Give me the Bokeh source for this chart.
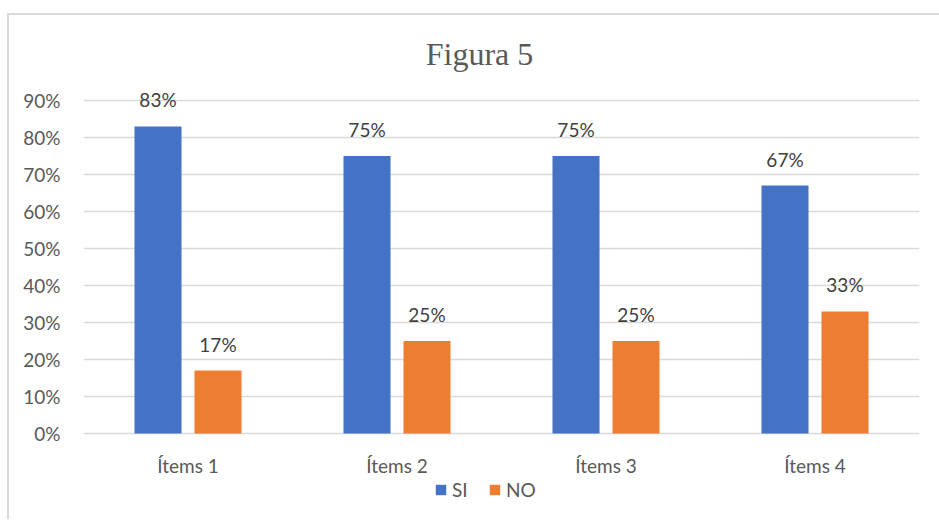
from bokeh.plotting import figure
from bokeh.models import (ColumnDataSource, FactorRange, LabelSet, Label, Legend, LegendItem,
                          NumeralTickFormatter, FixedTicker, Range1d)
from bokeh.core.properties import value
from bokeh.transform import dodge
from bokeh.embed import file_html
from bokeh.resources import INLINE

# Survey results per item
items = ["Ítems 1", "Ítems 2", "Ítems 3", "Ítems 4"]
si_values = [0.83, 0.75, 0.75, 0.67]
no_values = [0.17, 0.25, 0.25, 0.33]
y_ticks = [0.0, 0.1, 0.2, 0.3, 0.4, 0.5, 0.6, 0.7, 0.8, 0.9]

BLUE = "#4472C4"
ORANGE = "#ED7D31"
GRID = "#d9d9d9"
TEXT = "#595959"
LABEL = "#404040"
FONT = "Lato"

source = ColumnDataSource(dict(
    items=items,
    si=si_values,
    no=no_values,
    si_text=[f"{round(v * 100)}%" for v in si_values],
    no_text=[f"{round(v * 100)}%" for v in no_values],
))

# The frame spans from just under the border down to the bottom edge, so the
# title, value labels, category names and legend all sit inside it.
p = figure(
    width=936, height=506,
    x_range=FactorRange(*items, range_padding=0),
    y_range=Range1d(-88 / 370, 403 / 370),
    x_axis_location=None,
    output_backend="svg", toolbar_location=None,
    min_border_left=74, min_border_right=26,
    min_border_top=15, min_border_bottom=0,
    margin=(13, 0, 0, 7),
    styles={"border-left": "2px solid #d9d9d9", "border-top": "2px solid #d9d9d9",
            "border-right": "none", "border-bottom": "none", "outline": "none"},
)
p.outline_line_color = None
p.background_fill_color = "white"
p.border_fill_color = "white"

offset = 0.1435
bar_w = 0.225
r_si = p.vbar(x=dodge("items", -offset, range=p.x_range), top="si", width=bar_w,
              source=source, fill_color=BLUE, line_color=None)
r_no = p.vbar(x=dodge("items", offset, range=p.x_range), top="no", width=bar_w,
              source=source, fill_color=ORANGE, line_color=None)

for col, txt, off in (("si", "si_text", -offset), ("no", "no_text", offset)):
    p.add_layout(LabelSet(
        x=dodge("items", off, range=p.x_range), y=col, text=txt, source=source,
        text_align="center", text_baseline="bottom", y_offset=15,
        text_font=value(FONT), text_font_size="19px", text_color=LABEL,
    ))

# Category names under the baseline
p.text(x="items", y=0, text="items", source=source, y_offset=32,
       text_align="center", text_baseline="middle",
       text_font=value(FONT), text_font_size="19px", text_color=TEXT)

# Title
p.add_layout(Label(
    x=396, y=468, x_units="screen", y_units="screen", text="Figura 5",
    text_align="center", text_baseline="middle",
    text_font="Liberation Serif", text_font_size="32px", text_color=TEXT,
))

# Value axis
p.yaxis.ticker = FixedTicker(ticks=y_ticks)
p.yaxis.formatter = NumeralTickFormatter(format="0%")
p.yaxis.axis_line_color = None
p.yaxis.major_tick_line_color = None
p.yaxis.minor_tick_line_color = None
p.yaxis.major_tick_out = 0
p.yaxis.major_tick_in = 0
p.yaxis.major_label_standoff = 23
p.yaxis.major_label_text_font = FONT
p.yaxis.major_label_text_font_size = "19px"
p.yaxis.major_label_text_color = TEXT

p.xgrid.grid_line_color = None
p.ygrid.grid_line_color = GRID
p.ygrid.grid_line_width = 1.5

# Legend at the bottom centre
legend = Legend(
    items=[LegendItem(label="SI", renderers=[r_si]), LegendItem(label="NO", renderers=[r_no])],
    orientation="horizontal", location=(351, 20),
    label_text_font=FONT, label_text_font_size="19px", label_text_color=TEXT,
    glyph_width=13, glyph_height=13, label_standoff=5, spacing=16,
    padding=0, margin=0, border_line_color=None, background_fill_alpha=0,
)
p.add_layout(legend, "center")

open("out.html", "w").write(file_html(p, INLINE))
